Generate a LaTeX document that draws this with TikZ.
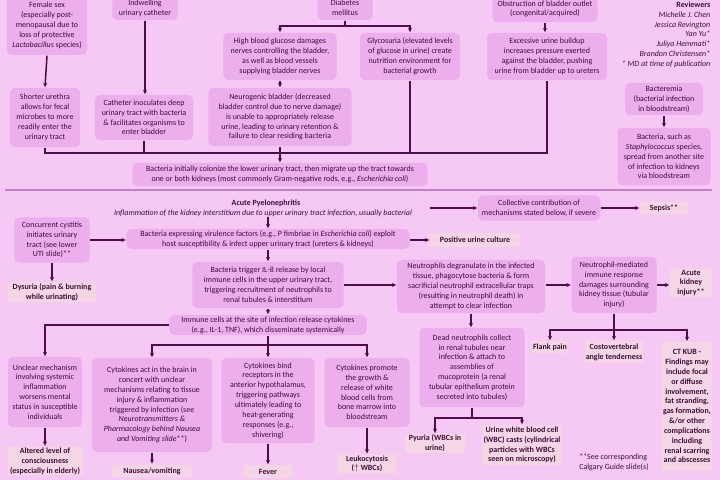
\documentclass[tikz,border=0pt]{standalone}
\usepackage{fontspec}
\setmainfont{Carlito}
\usepackage{xcolor}
\usetikzlibrary{arrows.meta}
\definecolor{bgc}{RGB}{246,200,244}
\definecolor{boxc}{RGB}{236,174,236}
\definecolor{findc}{RGB}{245,214,228}
\definecolor{txtc}{RGB}{62,12,62}
\definecolor{arrc}{RGB}{78,12,72}
\definecolor{divc}{RGB}{196,128,196}
\def\fs{\fontsize{6.8}{8.4}\selectfont}

\begin{document}
\begin{tikzpicture}[
    x=0.03cm, y=-0.03cm,
    >={Stealth[length=1.3mm,width=1.2mm]},
    line width=1.3pt,
    color=arrc,
    box/.style={fill=boxc, draw=none, rounded corners=4pt, align=center,
        inner sep=1pt, text=txtc, font=\fs},
    finding/.style={box, fill=findc, rounded corners=1pt, font=\fs\bfseries},
    plain/.style={draw=none, text=txtc, font=\fs, inner sep=0pt}
]
\clip (0,0) rectangle (720,480);
\fill[bgc] (0,0) rectangle (720,480);

% risk factors
\node[box, minimum width=2.4cm, minimum height=1.77cm] (fem) at (47,25.5) {Female sex\\(especially post-\\menopausal due to\\loss of protective\\\textit{Lactobacillus} species)};
\node[box, minimum width=1.95cm, minimum height=0.72cm] (cath) at (145,8) {Indwelling\\urinary catheter};
\node[box, minimum width=1.65cm, minimum height=0.72cm] (diab) at (345,8) {Diabetes\\mellitus};
\node[box, minimum width=3.15cm, minimum height=0.78cm] (obst) at (545,9) {Obstruction of bladder outlet\\(congenital/acquired)};
\node[plain, align=right, anchor=north east] (rev) at (711,1) {\textbf{Reviewers}\\\textit{Michelle J. Chen}\\\textit{Jessica Revington}\\\textit{Yan Yu*}\\\textit{Juliya Hemmati*}\\\textit{Brandon Christensen*}\\\textit{* MD at time of publication}};

\node[box, minimum width=3.39cm, minimum height=1.41cm] (hbg) at (280,56.5) {High blood glucose damages\\nerves controlling the bladder,\\as well as blood vessels\\supplying bladder nerves};
\node[box, minimum width=3.0cm, minimum height=1.41cm] (gly) at (410,56.5) {Glycosuria (elevated levels\\of glucose in urine) create\\nutrition environment for\\bacterial growth};
\node[box, minimum width=3.6cm, minimum height=1.41cm] (exc) at (547,56.5) {Excessive urine buildup\\increases pressure exerted\\against the bladder, pushing\\urine from bladder up to ureters};
\node[box, minimum width=4.29cm, minimum height=1.74cm] (neuro) at (280,117) {Neurogenic bladder (decreased\\bladder control due to nerve damage)\\is unable to appropriately release\\urine, leading to urinary retention \&\\failure to clear residing bacteria};
\node[box, minimum width=2.1cm, minimum height=1.77cm] (sho) at (45,117.5) {Shorter urethra\\allows for fecal\\microbes to more\\readily enter the\\urinary tract};
\node[box, minimum width=2.94cm, minimum height=1.35cm] (cati) at (144,117.5) {Catheter inoculates deep\\urinary tract with bacteria\\\& facilitates organisms to\\enter bladder};
\node[box, minimum width=2.34cm, minimum height=0.96cm] (bcm) at (664,99) {Bacteremia\\(bacterial infection\\in bloodstream)};
\node[box, minimum width=2.79cm, minimum height=1.71cm] (stap) at (664,156.5) {Bacteria, such as\\\textit{Staphylococcus} species,\\spread from another site\\of infection to kidneys\\via bloodstream};
\node[box, minimum width=8.85cm, minimum height=0.69cm] (col) at (280,174.5) {Bacteria initially colonize the lower urinary tract, then migrate up the tract towards\\one or both kidneys (most commonly Gram-negative rods, e.g., \textit{Escherichia coli})};

\coordinate (dj) at (345,26);
\coordinate (mrg) at (280,153);
\draw (diab.south) -- (dj);
\draw[->] (dj) -| (hbg.north);
\draw[->] (dj) -| (gly.north);
\draw[->] (hbg.south) -- (neuro.north);
\draw[->] (fem.south) -- (sho.north);
\draw[->] (cath.south) -- (cath.south |- cati.north);
\draw[->] (obst.south) -- (obst.south |- exc.north);
\draw[->] (bcm.south) -- (stap.north);
\draw (sho.south) -- (sho.south |- mrg) -- (exc.south |- mrg) -- (exc.south);
\draw (cati.south) -- (cati.south |- mrg);
\draw (gly.south) -- (gly.south |- mrg);
\draw[->] (neuro.south) -- (col.north);

\draw[divc, line width=1.6pt] (5,190) -- (712,190);

% pyelonephritis
\node[plain] (ttl) at (266,203) {\textbf{Acute Pyelonephritis}};
\node[plain] (sub) at (263,213) {\textit{Inflammation of the kidney interstitium due to upper urinary tract infection, usually bacterial}};
\coordinate (subend) at (430,208);
\node[box, minimum width=3.66cm, minimum height=0.75cm] (colm) at (539,208) {Collective contribution of\\mechanisms stated below, if severe};
\node[finding, minimum width=1.44cm, minimum height=0.39cm] (seps) at (664,208) {Sepsis**};
\draw[->] (subend) -- (colm.west);
\draw[->] (colm.east) -- (seps.west);

\node[box, minimum width=2.25cm, minimum height=1.35cm] (cys) at (52,240) {Concurrent cystitis\\initiates urinary\\tract (see lower\\UTI slide)**};
\node[finding, minimum width=2.67cm, minimum height=0.6cm] (dys) at (52,292) {Dysuria (pain \& burning\\while urinating)};
\node[box, minimum width=8.49cm, minimum height=0.6cm] (vir) at (268,239) {Bacteria expressing virulence factors (e.g., P fimbriae in \textit{Escherichia coli}) exploit\\host susceptibility \& infect upper urinary tract (ureters \& kidneys)};
\node[finding, minimum width=2.7cm, minimum height=0.42cm] (puc) at (475,240) {Positive urine culture};
\node[box, minimum width=4.53cm, minimum height=1.38cm] (il8) at (268,285) {Bacteria trigger IL-8 release by local\\immune cells in the upper urinary tract,\\triggering recruitment of neutrophils to\\renal tubules \& interstitium};
\node[box, minimum width=4.44cm, minimum height=1.59cm] (neu) at (471,286.5) {Neutrophils degranulate in the infected\\tissue, phagocytose bacteria \& form\\sacrificial neutrophil extracellular traps\\(resulting in neutrophil death) in\\attempt to clear infection};
\node[box, minimum width=2.55cm, minimum height=1.68cm] (nmed) at (614,285) {Neutrophil-mediated\\immune response\\damages surrounding\\kidney tissue (tubular\\injury)};
\node[finding, minimum width=1.26cm, minimum height=0.84cm] (aki) at (691,283) {Acute\\kidney\\injury**};
\node[box, minimum width=5.91cm, minimum height=0.6cm] (imm) at (268,325) {Immune cells at the site of infection release cytokines\\(e.g., IL-1, TNF), which disseminate systemically};

\draw[->] (vir.north |- sub.south) -- (vir.north);
\draw[->] (cys.east) -- (cys.east -| vir.west);
\draw[->] (cys.south) -- (dys.north);
\draw[->] (vir.east |- puc) -- (puc.west);
\draw[->] (vir.south) -- (il8.north);
\draw[->] (il8.east) -- (il8.east -| neu.west);
\draw[->] (neu.east |- nmed) -- (nmed.west);
\draw[->] (nmed.east) -- (nmed.east -| aki.west);
\draw[->] (il8.south) -- (imm.north);

% systemic and local effects
\node[box, minimum width=2.22cm, minimum height=2.1cm] (unc) at (45,392) {Unclear mechanism\\involving systemic\\inflammation\\worsens mental\\status in susceptible\\individuals};
\node[finding, minimum width=2.25cm, minimum height=0.84cm] (alt) at (45,461) {Altered level of\\consciousness\\(especially in elderly)};
\node[box, minimum width=3.6cm, minimum height=2.82cm] (brn) at (152,405) {Cytokines act in the brain in\\concert with unclear\\mechanisms relating to tissue\\injury \& inflammation\\triggered by infection (see\\\textit{Neurotransmitters \&}\\\textit{Pharmacology behind Nausea}\\\textit{and Vomiting slide}**)};
\node[finding, minimum width=2.4cm, minimum height=0.39cm] (nau) at (152,471) {Nausea/vomiting};
\node[box, minimum width=2.79cm, minimum height=2.55cm] (hyp) at (268,400.5) {Cytokines bind\\receptors in the\\anterior hypothalamus,\\triggering pathways\\ultimately leading to\\heat-generating\\responses (e.g.,\\shivering)};
\node[finding, minimum width=1.47cm, minimum height=0.39cm] (fev) at (268,471.5) {Fever};
\node[box, minimum width=2.55cm, minimum height=2.07cm] (wbc) at (367,392.5) {Cytokines promote\\the growth \&\\release of white\\blood cells from\\bone marrow into\\bloodstream};
\node[finding, minimum width=1.77cm, minimum height=0.54cm] (leu) at (367,464) {Leukocytosis\\($\uparrow$ WBCs)};
\node[box, minimum width=3.15cm, minimum height=2.37cm] (dead) at (472,367.5) {Dead neutrophils collect\\in renal tubules near\\infection \& attach to\\assemblies of\\mucoprotein (a renal\\tubular epithelium protein\\secreted into tubules)};
\node[finding, minimum width=1.8cm, minimum height=0.51cm] (pyu) at (435,443.5) {Pyuria (WBCs in\\urine)};
\node[finding, minimum width=2.25cm, minimum height=1.2cm] (cast) at (522,445) {Urine white blood cell\\(WBC) casts (cylindrical\\particles with WBCs\\seen on microscopy)};
\node[finding, minimum width=1.02cm, minimum height=0.36cm] (flk) at (550,347) {Flank pain};
\node[finding, minimum width=1.65cm, minimum height=0.66cm] (cva) at (614,352) {Costovertebral\\angle tenderness};
\node[finding, minimum width=1.5cm, minimum height=3.87cm, anchor=north] (ct) at (687,341) {CT KUB -\\Findings may\\include focal\\or diffuse\\involvement,\\fat stranding,\\gas formation,\\\&/or other\\complications\\including\\renal scarring\\and abscesses};
\node[plain, align=left] (note) at (614,462) {**See corresponding\\Calgary Guide slide(s)};

\coordinate (ib) at (268,345);
\coordinate (db) at (472,418);
\coordinate (nb) at (614,330);
\draw[->] (imm.west) -| (unc.north);
\draw (imm.south) -- (ib);
\draw[->] (ib) -| (brn.north);
\draw[->] (ib) -- (hyp.north);
\draw[->] (ib) -| (wbc.north);
\draw[->] (unc.south) -- (alt.north);
\draw[->] (brn.south) -- (nau.north);
\draw[->] (hyp.south) -- (fev.north);
\draw[->] (wbc.south) -- (leu.north);
\draw[->] (neu.south) -- (neu.south |- dead.north);
\draw (dead.south) -- (db);
\draw[->] (db) -| (pyu.north);
\draw[->] (db) -| (cast.north);
\draw (nmed.south) -- (nb);
\draw[->] (nb) -| (flk.north);
\draw[->] (nb) -- (cva.north);
\draw[->] (nb) -| (ct.north);
\end{tikzpicture}
\end{document}
